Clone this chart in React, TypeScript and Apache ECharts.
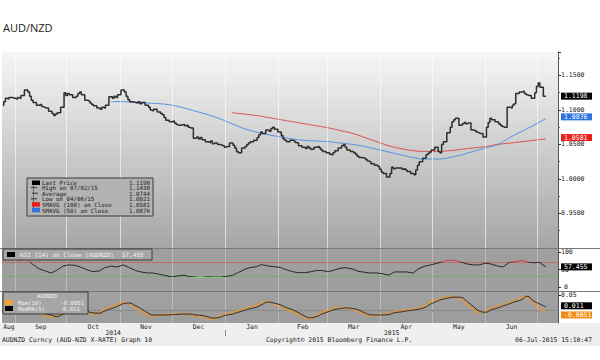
import React, { useEffect, useRef } from "react";
import * as echarts from "echarts";

// ---- calendar (day numbers = days since 1 Aug 2014) ----
const title = "AUD/NZD";
const monthStarts = [31, 61, 92, 122, 153, 184, 212, 243, 273, 304, 334];
const monthMids = [27.5, 46, 76.5, 107, 137.5, 168.5, 198, 227.5, 258, 288.5, 319];
const monthNames = ["Aug", "Sep", "Oct", "Nov", "Dec", "Jan", "Feb", "Mar", "Apr", "May", "Jun"];
const yearMids = [88, 249.5];
const yearNames = ["2014", "2015"];
const yearBreaks = [153];
const firstMonday = 24; // Mon 25 Aug 2014
const sma50FirstWeek = 9;
const sma100FirstWeek = 19;
const X_MIN = 23.5;
const X_MAX = 346;

// ---- daily closes, Mon..Fri per row, last = Mon 6 Jul 2015 ----
const closes = [
  1.107, 1.112, 1.117, 1.116, 1.118,
  1.117, 1.116, 1.118, 1.117, 1.121,
  1.129, 1.126, 1.120, 1.114, 1.111,
  1.107, 1.108, 1.105, 1.104, 1.103,
  1.098, 1.095, 1.092, 1.094, 1.096,
  1.104, 1.125, 1.121, 1.124, 1.122,
  1.118, 1.120, 1.124, 1.126, 1.122,
  1.114, 1.113, 1.110, 1.108, 1.106,
  1.103, 1.101, 1.104, 1.103, 1.107,
  1.119, 1.117, 1.120, 1.118, 1.122,
  1.129, 1.126, 1.120, 1.115, 1.112,
  1.111, 1.110, 1.112, 1.109, 1.111,
  1.107, 1.104, 1.100, 1.099, 1.101,
  1.097, 1.095, 1.093, 1.089, 1.085,
  1.083, 1.084, 1.081, 1.079, 1.078,
  1.079, 1.077, 1.078, 1.075, 1.074,
  1.059, 1.061, 1.058, 1.060, 1.057,
  1.054, 1.053, 1.055, 1.051, 1.052,
  1.050, 1.049, 1.048, 1.046, 1.047,
  1.052, 1.049, 1.045, 1.040, 1.038,
  1.045, 1.047, 1.050, 1.052, 1.054,
  1.056, 1.060, 1.064, 1.068, 1.066,
  1.071, 1.069, 1.073, 1.075, 1.072,
  1.068, 1.063, 1.058, 1.056, 1.054,
  1.056, 1.055, 1.053, 1.052, 1.048,
  1.046, 1.044, 1.047, 1.045, 1.043,
  1.046, 1.047, 1.045, 1.042, 1.040,
  1.038, 1.036, 1.035, 1.038, 1.041,
  1.045, 1.048, 1.050, 1.046, 1.042,
  1.040, 1.038, 1.036, 1.033, 1.031,
  1.030, 1.028, 1.026, 1.025, 1.022,
  1.020, 1.018, 1.014, 1.010, 1.008,
  1.003, 1.008, 1.017, 1.015, 1.016,
  1.016, 1.014, 1.015, 1.013, 1.011,
  1.008, 1.006, 1.013, 1.020, 1.025,
  1.030, 1.035, 1.037, 1.039, 1.042,
  1.046, 1.040, 1.038, 1.050, 1.054,
  1.067, 1.075, 1.083, 1.086, 1.088,
  1.078, 1.080, 1.082, 1.080, 1.081,
  1.071, 1.070, 1.068, 1.067, 1.066,
  1.061, 1.075, 1.082, 1.088, 1.086,
  1.083, 1.080, 1.078, 1.076, 1.075,
  1.104, 1.103, 1.107, 1.109, 1.124,
  1.126, 1.127, 1.124, 1.122, 1.121,
  1.117, 1.125, 1.134, 1.139, 1.133,
  1.1198,
];

// ---- weekly (Mondays) moving averages ----
const sma50 = [
  1.112, 1.112, 1.111, 1.110, 1.109, 1.107, 1.103, 1.098, 1.093, 1.087,
  1.080, 1.073, 1.068, 1.064, 1.061, 1.058, 1.056, 1.055, 1.054, 1.052,
  1.050, 1.047, 1.043, 1.039, 1.035, 1.031, 1.029, 1.029, 1.031, 1.035,
  1.040, 1.045, 1.050, 1.060, 1.069, 1.078, 1.0876,
];
const sma100 = [
  1.096, 1.094, 1.092, 1.089, 1.086, 1.083, 1.080, 1.077, 1.074, 1.070,
  1.066, 1.060, 1.054, 1.048, 1.044, 1.041, 1.040, 1.040, 1.041, 1.043,
  1.045, 1.047, 1.050, 1.052, 1.054, 1.056, 1.0581,
];

// ---- twice-weekly (Mon, Thu) studies ----
const rsi14 = [
  75, 78, 80, 76, 80, 66, 52, 47, 40, 47,
  60, 63, 62, 57, 49, 44, 46, 55, 60, 57,
  63, 56, 47, 43, 40, 40, 36, 33, 29, 31,
  34, 30, 28, 27, 29, 28, 28, 30, 33, 40,
  50, 55, 58, 64, 60, 58, 56, 50, 44, 41,
  41, 43, 47, 47, 44, 48, 54, 55, 51, 45,
  42, 40, 40, 38, 34, 43, 43, 43, 40, 52,
  60, 63, 68, 72, 77, 76, 71, 66, 63, 63,
  68, 66, 60, 57, 71, 72, 76, 72, 69, 71,
  57.455,
];
const momMA5 = [
  0.030, 0.032, 0.030, 0.025, 0.020, 0.012, 0.000, -0.010, -0.015, -0.020,
  -0.012, 0.000, 0.008, 0.011, -0.002, -0.008, -0.009, -0.002, 0.006, 0.012,
  0.022, 0.024, 0.015, 0.006, -0.008, -0.015, -0.015, -0.015, -0.014, -0.013,
  -0.012, -0.012, -0.015, -0.016, -0.021, -0.025, -0.022, -0.016, -0.012, -0.007,
  0.000, 0.005, 0.010, 0.018, 0.027, 0.024, 0.018, 0.010, 0.002, -0.006,
  -0.018, -0.024, -0.020, -0.012, -0.004, 0.002, 0.006, 0.008, 0.006, 0.002,
  -0.008, -0.014, -0.015, -0.015, -0.013, -0.008, -0.005, -0.002, 0.001, 0.004,
  0.010, 0.020, 0.030, 0.036, 0.041, 0.043, 0.042, 0.030, 0.012, -0.001,
  -0.006, 0.001, 0.008, 0.014, 0.022, 0.028, 0.035, 0.046, 0.030, 0.022,
  0.011,
];
const mom10 = [
  0.034, 0.030, 0.026, 0.020, 0.012, 0.004, -0.008, -0.015, -0.022, -0.018,
  -0.004, 0.006, 0.012, 0.010, -0.006, -0.012, -0.008, 0.003, 0.012, 0.018,
  0.027, 0.022, 0.008, -0.002, -0.014, -0.018, -0.016, -0.014, -0.013, -0.012,
  -0.011, -0.013, -0.018, -0.019, -0.026, -0.027, -0.018, -0.012, -0.008, -0.002,
  0.005, 0.010, 0.016, 0.024, 0.029, 0.020, 0.012, 0.004, -0.004, -0.012,
  -0.024, -0.026, -0.016, -0.006, 0.001, 0.006, 0.009, 0.008, 0.003, -0.003,
  -0.012, -0.017, -0.016, -0.014, -0.010, -0.004, -0.002, 0.001, 0.003, 0.007,
  0.016, 0.027, 0.035, 0.040, 0.045, 0.044, 0.036, 0.020, 0.004, -0.006,
  -0.002, 0.006, 0.012, 0.018, 0.026, 0.032, 0.042, 0.044, 0.020, 0.008,
  -0.0051,
];

const rsiTicks = [0, 50, 100];
const rsiUpperLabels = [50, 100];
const rsiFloor = 0;
const momTicks = [0.05];
const rsiOverbought = 70;
const rsiOversold = 30;

const legendNames = ["Last Price", "High on 07/02/15", "Average", "Low on 04/06/15", "SMAVG (100) on Close", "SMAVG (50) on Close"];
const legendValues = ["1.1198", "1.1430", "1.0744", "1.0021", "1.0581", "1.0876"];
const rsiLegend = "RSI (14) on Close (AUDNZD)";
const momLegendTitle = "AUDNZD";
const momLegendNames = ["Mom(10)", "MomMA(5)"];
const footerLeft = "AUDNZD Curncy (AUD-NZD X-RATE) Graph 10";
const footerMid = "Copyright\u00a9 2015 Bloomberg Finance L.P.";
const footerRight = "06-Jul-2015 15:10:47";

const MONO = "'DejaVu Sans Mono', monospace";

const tradingDay = (i: number) => firstMonday + 7 * Math.floor(i / 5) + (i % 5);
const halfWeekDay = (i: number) => firstMonday + 7 * Math.floor(i / 2) + (i % 2) * 3;
const last = (a: number[]) => a[a.length - 1];

function tag(value: number, text: string, bg: string, dy = 0) {
  return {
    yAxis: value,
    lineStyle: { color: "rgba(0,0,0,0)", width: 1, type: "solid" },
    label: {
      show: true,
      position: "end",
      distance: 3,
      offset: [0, dy],
      formatter: text,
      backgroundColor: bg,
      color: "#ffffff",
      fontFamily: MONO,
      fontSize: 6.5,
      lineHeight: 7,
      padding: [0, 3, 0, 3],
      width: 25,
    },
  };
}
const vGrid = (color: string) =>
  monthStarts.map((v) => ({ xAxis: v, lineStyle: { color, width: 1, type: "solid" }, label: { show: false } }));

function buildOption() {
  const priceData = closes.map((c, i) => [tradingDay(i), c]);
  const sma50Data = sma50.map((v, i) => [firstMonday + 7 * (sma50FirstWeek + i), v]);
  const sma100Data = sma100.map((v, i) => [firstMonday + 7 * (sma100FirstWeek + i), v]);
  const rsiData = rsi14.map((v, i) => [halfWeekDay(i), v]);
  const momData = mom10.map((v, i) => [halfWeekDay(i), v]);
  const momMAData = momMA5.map((v, i) => [halfWeekDay(i), v]);

  const axisLabelBase = { fontFamily: MONO, fontSize: 6.5, color: "#222", margin: 3, hideOverlap: false };
  const hiddenX = (gi: number) => ({ type: "value", gridIndex: gi, min: X_MIN, max: X_MAX, show: false });

  const text = (x: number, y: number, t: string, size: number, fill: string, align = "left", family = MONO) => ({
    type: "text",
    x,
    y,
    z: 101,
    style: {
      text: t, fill, fontSize: size, fontFamily: family,
      align, textAlign: align, verticalAlign: "middle", textVerticalAlign: "middle",
    },
  });

  const mainLegend = {
    type: "group",
    x: 27,
    y: 178,
    z: 100,
    children: [
      { type: "rect", z: 100, shape: { x: 0, y: 0, width: 126, height: 38 }, style: { fill: "#b3b3b3", stroke: "#3a3a3a", lineWidth: 1 } },
      { type: "line", z: 101, shape: { x1: 6.5, y1: 5, x2: 6.5, y2: 34 }, style: { stroke: "#6a6a6a", lineWidth: 1 } },
      { type: "rect", z: 102, shape: { x: 5, y: 2.5, width: 8, height: 4.5 }, style: { fill: "#000" } },
      { type: "line", z: 102, shape: { x1: 4, y1: 9.6, x2: 10, y2: 9.6 }, style: { stroke: "#333", lineWidth: 1 } },
      { type: "line", z: 102, shape: { x1: 5, y1: 15.2, x2: 11, y2: 15.2 }, style: { stroke: "#333", lineWidth: 1 } },
      { type: "line", z: 102, shape: { x1: 4, y1: 20.8, x2: 10, y2: 20.8 }, style: { stroke: "#333", lineWidth: 1 } },
      { type: "rect", z: 102, shape: { x: 5, y: 24.2, width: 8, height: 4.5 }, style: { fill: "#e8201c" } },
      { type: "rect", z: 102, shape: { x: 5, y: 29.8, width: 8, height: 4.5 }, style: { fill: "#2d74e0" } },
      ...legendNames.map((n, i) => text(15, 4.6 + i * 5.6, n, 5.8, "#1a1a1a")),
      ...legendValues.map((v, i) => text(123, 4.6 + i * 5.6, v, 5.8, "#1a1a1a", "right")),
    ],
  };

  const rsiLegendBox = {
    type: "group",
    x: 3,
    y: 249,
    z: 100,
    children: [
      { type: "rect", z: 100, shape: { x: 0, y: 0, width: 149, height: 11 }, style: { fill: "#a6a6a6", stroke: "#3a3a3a", lineWidth: 1 } },
      { type: "rect", z: 102, shape: { x: 4, y: 3, width: 8, height: 5 }, style: { fill: "#000" } },
      text(17, 5.8, rsiLegend, 6, "#f2f2f2"),
      text(119, 5.8, String(last(rsi14)), 6, "#f2f2f2"),
    ],
  };

  const momLegendBox = {
    type: "group",
    x: 3,
    y: 292,
    z: 100,
    children: [
      { type: "rect", z: 100, shape: { x: 0, y: 0, width: 85, height: 22 }, style: { fill: "#a6a6a6", stroke: "#3a3a3a", lineWidth: 1 } },
      text(44, 4.3, momLegendTitle, 5.6, "#f2f2f2", "center"),
      { type: "rect", z: 102, shape: { x: 2, y: 8, width: 8, height: 5 }, style: { fill: "#f0a030" } },
      { type: "rect", z: 102, shape: { x: 2, y: 14, width: 8, height: 5 }, style: { fill: "#000" } },
      text(15, 10.5, momLegendNames[0], 5.6, "#f2f2f2"),
      text(15, 16.6, momLegendNames[1], 5.6, "#f2f2f2"),
      text(81, 10.5, String(last(mom10)), 5.6, "#f2f2f2", "right"),
      text(60, 16.6, String(last(momMA5)), 5.6, "#f2f2f2"),
    ],
  };

  return {
    animation: false,
    backgroundColor: "#ffffff",
    grid: [
      {
        left: 2, right: 42, top: 52, height: 196, show: true, borderWidth: 0, outerBoundsMode: "none",
        backgroundColor: {
          type: "linear", x: 0, y: 0, x2: 0, y2: 1,
          colorStops: [
            { offset: 0, color: "#f6f6f6" },
            { offset: 0.55, color: "#c9c9c9" },
            { offset: 1, color: "#a6a6a6" },
          ],
        },
      },
      { left: 2, right: 42, top: 248, height: 43, show: true, borderWidth: 0, backgroundColor: "#9f9f9f", outerBoundsMode: "none" },
      {
        left: 2, right: 42, top: 291, height: 32, show: true, borderWidth: 0, outerBoundsMode: "none",
        backgroundColor: {
          type: "linear", x: 0, y: 0, x2: 0, y2: 1,
          colorStops: [
            { offset: 0, color: "#a2a2a2" },
            { offset: 1, color: "#9c9c9c" },
          ],
        },
      },
    ],
    xAxis: [
      hiddenX(0),
      hiddenX(1),
      {
        type: "value", gridIndex: 2, min: X_MIN, max: X_MAX, position: "bottom",
        axisLine: { show: true, lineStyle: { color: "#8a8a8a", width: 1 } },
        axisTick: { show: true, customValues: monthStarts, length: 2, lineStyle: { color: "#555" } },
        axisLabel: {
          customValues: monthMids,
          formatter: (v: number) => monthNames[monthMids.indexOf(v)] ?? "",
          fontFamily: MONO, fontSize: 6.4, color: "#222", margin: 1,
        },
        splitLine: { show: false },
      },
      {
        type: "value", gridIndex: 2, min: X_MIN, max: X_MAX, position: "bottom", offset: 7,
        axisLine: { show: false },
        axisTick: { show: true, customValues: yearBreaks, length: 6, lineStyle: { color: "#888" } },
        axisLabel: {
          customValues: yearMids,
          formatter: (v: number) => yearNames[yearMids.indexOf(v)] ?? "",
          fontFamily: MONO, fontSize: 6.4, color: "#222", margin: 0,
        },
        splitLine: { show: false },
      },
    ],
    yAxis: [
      {
        type: "value", gridIndex: 0, position: "right", min: 0.9, max: 1.184, interval: 0.05,
        axisLine: { show: true, lineStyle: { color: "#555" } },
        axisTick: { show: true, length: 3, lineStyle: { color: "#333" } },
        minorTick: { show: true, splitNumber: 2, length: 2, lineStyle: { color: "#666" } },
        axisLabel: { ...axisLabelBase, formatter: (v: number) => v.toFixed(4), showMinLabel: false, showMaxLabel: false },
        splitLine: { show: false },
        minorSplitLine: { show: false },
      },
      {
        type: "value", gridIndex: 1, position: "right", min: -11.4, max: 111.4,
        axisLine: { show: true, lineStyle: { color: "#555" } },
        axisTick: { show: true, length: 3, customValues: rsiTicks, lineStyle: { color: "#333" } },
        axisLabel: { ...axisLabelBase, customValues: rsiUpperLabels, formatter: (v: number) => String(v) },
        splitLine: { show: false },
      },
      {
        type: "value", gridIndex: 2, position: "right", min: -0.041, max: 0.063,
        axisLine: { show: true, lineStyle: { color: "#555" } },
        axisTick: { show: true, length: 3, customValues: momTicks, lineStyle: { color: "#333" } },
        axisLabel: { ...axisLabelBase, customValues: momTicks, formatter: (v: number) => String(v) },
        splitLine: { show: false },
      },
    ],
    visualMap: [
      {
        show: false, type: "piecewise", seriesIndex: 3, dimension: 1,
        pieces: [
          { lt: rsiOversold, color: "#6fdc6f" },
          { gte: rsiOversold, lte: rsiOverbought, color: "#262626" },
          { gt: rsiOverbought, color: "#c84040" },
        ],
      },
    ],
    series: [
      {
        name: "Last Price", type: "line", xAxisIndex: 0, yAxisIndex: 0, data: priceData,
        step: "middle", showSymbol: false, z: 5,
        lineStyle: { color: "#2e2e2e", width: 1.5 },
        markLine: {
          silent: true, symbol: ["none", "none"], animation: false,
          data: [...vGrid("rgba(255,255,255,0.6)"), tag(last(closes), last(closes).toFixed(4), "#000000")],
        },
      },
      {
        name: "SMAVG (100)", type: "line", xAxisIndex: 0, yAxisIndex: 0, data: sma100Data,
        smooth: true, showSymbol: false, z: 4, lineStyle: { color: "#e04a4a", width: 1 },
        markLine: { silent: true, symbol: ["none", "none"], animation: false, data: [tag(last(sma100), last(sma100).toFixed(4), "#e8201c")] },
      },
      {
        name: "SMAVG (50)", type: "line", xAxisIndex: 0, yAxisIndex: 0, data: sma50Data,
        smooth: true, showSymbol: false, z: 4, lineStyle: { color: "#4a90e2", width: 1 },
        markLine: { silent: true, symbol: ["none", "none"], animation: false, data: [tag(last(sma50), last(sma50).toFixed(4), "#2d74e0")] },
      },
      {
        name: "RSI", type: "line", xAxisIndex: 1, yAxisIndex: 1, data: rsiData,
        showSymbol: false, z: 5, lineStyle: { width: 1 },
        markLine: {
          silent: true, symbol: ["none", "none"], animation: false,
          data: [
            ...vGrid("rgba(255,255,255,0.3)"),
            { yAxis: rsiOverbought, lineStyle: { color: "#c46a6a", width: 1, type: "solid" }, label: { show: false } },
            { yAxis: rsiOversold, lineStyle: { color: "#76ad76", width: 1, type: "solid" }, label: { show: false } },
            {
              yAxis: rsiFloor,
              lineStyle: { color: "rgba(0,0,0,0)", width: 1, type: "solid" },
              label: {
                show: true, position: "end", distance: 6, formatter: String(rsiFloor),
                color: "#222", fontFamily: MONO, fontSize: 6.5,
              },
            },
            tag(last(rsi14), String(last(rsi14)), "#000000"),
          ],
        },
      },
      {
        name: "Mom(10)", type: "line", xAxisIndex: 2, yAxisIndex: 2, data: momData,
        smooth: true, showSymbol: false, z: 4, lineStyle: { color: "rgba(226,150,60,0.7)", width: 2.4 },
        markLine: {
          silent: true, symbol: ["none", "none"], animation: false,
          data: [...vGrid("rgba(255,255,255,0.3)"), tag(last(mom10), String(last(mom10)), "#f08a10", 1.5)],
        },
      },
      {
        name: "MomMA(5)", type: "line", xAxisIndex: 2, yAxisIndex: 2, data: momMAData,
        smooth: true, showSymbol: false, z: 5, lineStyle: { color: "#2a2a2a", width: 1 },
        markLine: { silent: true, symbol: ["none", "none"], animation: false, data: [tag(last(momMA5), String(last(momMA5)), "#000000", -1.5)] },
      },
    ],
    graphic: [
      { type: "rect", z: -10, silent: true, shape: { x: 0, y: 323, width: 600, height: 23 }, style: { fill: "#efefef" } },
      { type: "line", z: 50, silent: true, shape: { x1: 0, y1: 248.5, x2: 600, y2: 248.5 }, style: { stroke: "#7a7a7a", lineWidth: 1 } },
      { type: "line", z: 50, silent: true, shape: { x1: 0, y1: 291.5, x2: 600, y2: 291.5 }, style: { stroke: "#7a7a7a", lineWidth: 1 } },
      text(3, 27, title, 11, "#1a1a1a", "left", "'Open Sans', sans-serif"),
      text(2, 340, footerLeft, 6.4, "#222"),
      text(266, 340, footerMid, 6.4, "#222"),
      text(592, 340, footerRight, 6.4, "#222", "right"),
      mainLegend,
      rsiLegendBox,
      momLegendBox,
    ],
  };
}

export default function App() {
  const ref = useRef<HTMLDivElement>(null);
  useEffect(() => {
    document.body.style.margin = "0";
    if (!ref.current) return;
    const chart = echarts.init(ref.current, null, { renderer: "svg" });
    chart.setOption(buildOption() as any);
    return () => chart.dispose();
  }, []);
  return <div ref={ref} style={{ width: 600, height: 360 }} />;
}
